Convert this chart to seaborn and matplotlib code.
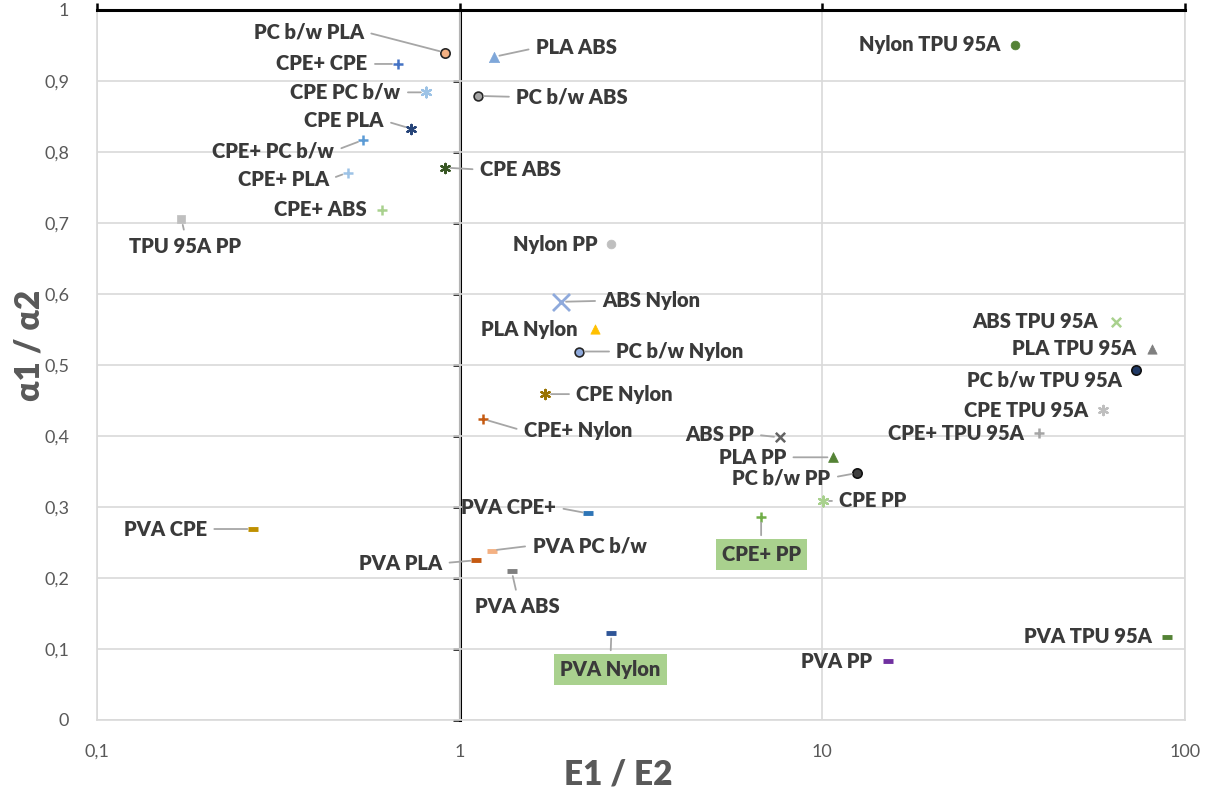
import matplotlib
matplotlib.use("Agg")
import matplotlib.pyplot as plt
import matplotlib.ticker as mticker
import seaborn as sns
import pandas as pd

# Material pairs: stiffness ratio E1/E2 and thermal expansion ratio a1/a2
names = [
    "PC b/w PLA", "CPE+ CPE", "CPE PC b/w", "CPE PLA", "CPE+ PC b/w", "CPE+ PLA",
    "CPE+ ABS", "TPU 95A PP", "CPE ABS", "PLA ABS", "PC b/w ABS", "Nylon PP",
    "Nylon TPU 95A", "ABS Nylon", "PLA Nylon", "PC b/w Nylon", "CPE Nylon", "CPE+ Nylon",
    "ABS PP", "PLA PP", "PC b/w PP", "CPE PP", "ABS TPU 95A", "PLA TPU 95A",
    "PC b/w TPU 95A", "CPE TPU 95A", "CPE+ TPU 95A", "CPE+ PP", "PVA CPE", "PVA CPE+",
    "PVA PC b/w", "PVA PLA", "PVA ABS", "PVA Nylon", "PVA PP", "PVA TPU 95A",
]
e_ratio = [
    0.911, 0.674, 0.81, 0.733, 0.542, 0.491,
    0.612, 0.171, 0.911, 1.243, 1.126, 2.62,
    34.0, 1.897, 2.36, 2.14, 1.724, 1.159,
    7.62, 10.7, 12.5, 10.07, 64.4, 81.1,
    73.1, 59.3, 39.5, 6.78, 0.269, 2.26,
    1.224, 1.11, 1.39, 2.62, 15.2, 89.3,
]
a_ratio = [
    0.940, 0.924, 0.884, 0.833, 0.817, 0.771,
    0.719, 0.705, 0.778, 0.934, 0.879, 0.670,
    0.951, 0.589, 0.550, 0.519, 0.459, 0.424,
    0.398, 0.370, 0.348, 0.3085, 0.5606, 0.523,
    0.493, 0.436, 0.404, 0.286, 0.269, 0.291,
    0.2387, 0.225, 0.2104, 0.1226, 0.083, 0.1175,
]

df = pd.DataFrame({"name": names, "E": e_ratio, "alpha": a_ratio})

# marker style per pair: (marker, face colour, edge colour, size, line width)
AST = (6, 2, 0)
styles = {
    "PC b/w PLA": ("o", "#F4B183", "#262626", 45, 1.2),
    "CPE+ CPE": ("+", "#4472C4", "#4472C4", 50, 1.8),
    "CPE PC b/w": (AST, "#9DC3E6", "#9DC3E6", 50, 1.6),
    "CPE PLA": (AST, "#264478", "#264478", 45, 1.6),
    "CPE+ PC b/w": ("+", "#5B9BD5", "#5B9BD5", 50, 1.8),
    "CPE+ PLA": ("+", "#9DC3E6", "#9DC3E6", 50, 1.8),
    "CPE+ ABS": ("+", "#A9D18E", "#A9D18E", 50, 1.8),
    "TPU 95A PP": ("s", "#BFBFBF", "#BFBFBF", 40, 0.5),
    "CPE ABS": (AST, "#375623", "#375623", 45, 1.6),
    "PLA ABS": ("^", "#7FA7D9", "#7FA7D9", 55, 0.5),
    "PC b/w ABS": ("o", "#A5A5A5", "#262626", 40, 1.2),
    "Nylon PP": ("o", "#BFBFBF", "#BFBFBF", 40, 0.5),
    "Nylon TPU 95A": ("o", "#548235", "#548235", 40, 0.5),
    "ABS Nylon": ("x", "#8FAADC", "#8FAADC", 150, 2.0),
    "PLA Nylon": ("^", "#FFC000", "#FFC000", 45, 0.5),
    "PC b/w Nylon": ("o", "#8FAADC", "#262626", 40, 1.2),
    "CPE Nylon": (AST, "#997300", "#997300", 45, 1.6),
    "CPE+ Nylon": ("+", "#C55A11", "#C55A11", 50, 1.8),
    "ABS PP": ("x", "#636363", "#636363", 45, 1.8),
    "PLA PP": ("^", "#548235", "#548235", 50, 0.5),
    "PC b/w PP": ("o", "#404040", "#111111", 45, 1.2),
    "CPE PP": (AST, "#A9D18E", "#A9D18E", 50, 1.6),
    "ABS TPU 95A": ("x", "#A9D18E", "#A9D18E", 45, 1.8),
    "PLA TPU 95A": ("^", "#7F7F7F", "#7F7F7F", 45, 0.5),
    "PC b/w TPU 95A": ("o", "#1F3864", "#111111", 45, 1.2),
    "CPE TPU 95A": (AST, "#BFBFBF", "#BFBFBF", 45, 1.6),
    "CPE+ TPU 95A": ("+", "#A5A5A5", "#A5A5A5", 45, 1.8),
    "CPE+ PP": ("+", "#70AD47", "#70AD47", 50, 1.8),
    "PVA CPE": ("_", "#BF9000", "#BF9000", 60, 3.5),
    "PVA CPE+": ("_", "#2E75B6", "#2E75B6", 60, 3.5),
    "PVA PC b/w": ("_", "#F4B183", "#F4B183", 60, 3.5),
    "PVA PLA": ("_", "#C55A11", "#C55A11", 60, 3.5),
    "PVA ABS": ("_", "#7F7F7F", "#7F7F7F", 60, 3.5),
    "PVA Nylon": ("_", "#2F5597", "#2F5597", 60, 3.5),
    "PVA PP": ("_", "#7030A0", "#7030A0", 60, 3.5),
    "PVA TPU 95A": ("_", "#548235", "#548235", 60, 3.5),
}

# label placement: (dx, dy) offset in pixels, horizontal alignment, leader line, boxed
labels = {
    "PC b/w PLA": (-81, 21, "right", True, False),
    "CPE+ CPE": (-30, 0, "right", True, False),
    "CPE PC b/w": (-26, 0, "right", True, False),
    "CPE PLA": (-27, 8, "right", True, False),
    "CPE+ PC b/w": (-29, -11, "right", True, False),
    "CPE+ PLA": (-19, -7, "right", True, False),
    "CPE+ ABS": (-16, 0, "right", False, False),
    "TPU 95A PP": (4, -27, "center", True, False),
    "CPE ABS": (35, -2, "left", True, False),
    "PLA ABS": (42, 9, "left", True, False),
    "PC b/w ABS": (38, -1, "left", True, False),
    "Nylon PP": (-14, 0, "right", False, False),
    "Nylon TPU 95A": (-15, 0, "right", False, False),
    "ABS Nylon": (42, 1, "left", True, False),
    "PLA Nylon": (-17, 0, "right", False, False),
    "PC b/w Nylon": (37, 0, "left", True, False),
    "CPE Nylon": (31, 0, "left", True, False),
    "CPE+ Nylon": (41, -12, "left", True, False),
    "ABS PP": (-26, 3, "right", True, False),
    "PLA PP": (-47, 0, "right", True, False),
    "PC b/w PP": (-27, -5, "right", True, False),
    "CPE PP": (16, 0, "left", True, False),
    "ABS TPU 95A": (-18, 0, "right", False, False),
    "PLA TPU 95A": (-16, 0, "right", False, False),
    "PC b/w TPU 95A": (-14, -10, "right", False, False),
    "CPE TPU 95A": (-15, 0, "right", False, False),
    "CPE+ TPU 95A": (-15, 0, "right", False, False),
    "CPE+ PP": (0, -38, "center", True, True),
    "PVA CPE": (-46, 0, "right", True, False),
    "PVA CPE+": (-32, 6, "right", True, False),
    "PVA PC b/w": (41, 5, "left", True, False),
    "PVA PLA": (-34, -3, "right", True, False),
    "PVA ABS": (6, -36, "center", True, False),
    "PVA Nylon": (-1, -37, "center", True, True),
    "PVA PP": (-16, 0, "right", False, False),
    "PVA TPU 95A": (-15, 0, "right", False, False),
}

sns.set_theme(style="white")
plt.rcParams["font.family"] = ["Lato", "DejaVu Sans"]

fig = plt.figure(figsize=(12.1, 7.98), dpi=100)
ax = fig.add_axes([97 / 1210, 1 - 720 / 798, 1088 / 1210, 710 / 798])

grid_c = "#D9D9D9"
text_c = "#3A3A3A"
tick_c = "#595959"

for _, row in df.iterrows():
    m, fc, ec, s, lw = styles[row["name"]]
    sns.scatterplot(x=[row["E"]], y=[row["alpha"]], ax=ax, marker=m, color=fc,
                    edgecolor=ec, s=s, linewidth=lw, zorder=5, legend=False)

for _, row in df.iterrows():
    dx, dy, ha, leader, boxed = labels[row["name"]]
    relpos = {"right": (1.0, 0.5), "left": (0.0, 0.5), "center": (0.5, 1.0)}[ha]
    kw = {}
    if leader:
        kw["arrowprops"] = dict(arrowstyle="-", color="#A6A6A6", lw=1.3,
                                shrinkA=3, shrinkB=4, relpos=relpos)
    if boxed:
        kw["bbox"] = dict(boxstyle="square,pad=0.3", fc="#A9D18E", ec="none")
    ax.annotate(row["name"], xy=(row["E"], row["alpha"]), xytext=(dx, dy),
                textcoords="offset pixels", ha=ha, va="center", fontsize=14.5,
                fontweight="heavy", color=text_c, zorder=6, **kw)

ax.set_xscale("log")
ax.set_xlim(0.1, 100)
ax.set_ylim(0, 1)
ax.set_xticks([0.1, 1, 10, 100])
ax.xaxis.set_minor_locator(mticker.NullLocator())
ax.set_yticks([i / 10 for i in range(11)])
ax.xaxis.set_major_formatter(mticker.FuncFormatter(lambda v, p: f"{v:g}".replace(".", ",")))
ax.yaxis.set_major_formatter(mticker.FuncFormatter(lambda v, p: f"{v:.1f}".replace(".", ",").replace("0,0", "0").replace("1,0", "1")))
ax.grid(True, which="major", color=grid_c, lw=1.2)
ax.set_axisbelow(True)

for side in ("left", "right", "bottom"):
    ax.spines[side].set_color(grid_c)
    ax.spines[side].set_linewidth(1.2)
ax.spines["top"].set_color("black")
ax.spines["top"].set_linewidth(2.2)
ax.spines["top"].set_zorder(4)

ax.tick_params(axis="x", bottom=False, top=True, labelbottom=True, labeltop=False,
               direction="out", length=5, width=1.8, color="black",
               labelcolor=tick_c, labelsize=13, pad=12)
ax.tick_params(axis="y", left=False, labelleft=True, labelcolor=tick_c,
               labelsize=13, pad=14)

# vertical axis line crossing at E1/E2 = 1
sec = ax.secondary_yaxis(1 / 3)
sec.set_yticks([i / 10 for i in range(11)])
sec.spines["left"].set_color("black")
sec.spines["left"].set_linewidth(2.2)
sec.tick_params(axis="y", direction="out", length=5, width=1.8, color="black",
                labelleft=False)

ax.set_xlabel("E1 / E2", fontsize=24, fontweight="heavy", color=tick_c)
ax.set_ylabel("α1 / α2", fontsize=24, fontweight="heavy", color=tick_c)
ax.xaxis.set_label_coords((618 - 97) / 1088, -(758 - 720) / 710)
ax.yaxis.set_label_coords((46 - 97) / 1088, (720 - 345) / 710)

fig.savefig("out.png", dpi=100)
